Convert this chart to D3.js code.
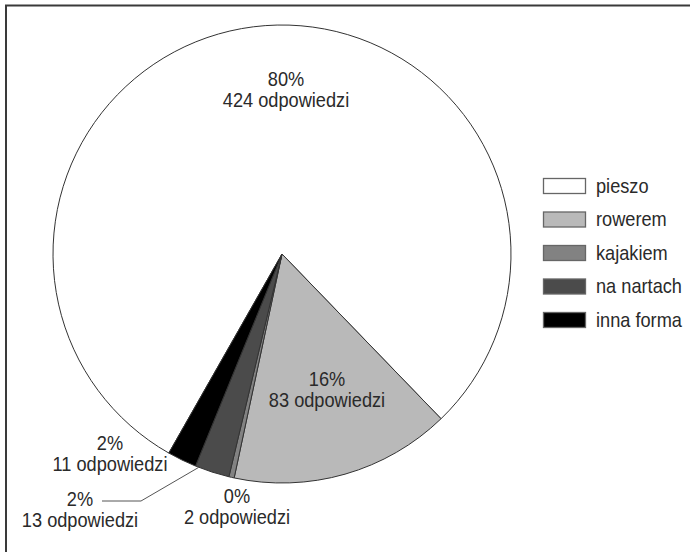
<!DOCTYPE html>
<html>
<head>
<meta charset="utf-8">
<script src="https://cdn.jsdelivr.net/npm/d3@7"></script>
<style>
  html, body { margin: 0; padding: 0; background: #fff; }
  svg { display: block; }
  text { font-family: "Liberation Sans", Arial, sans-serif; fill: #2a2a2a; }
</style>
</head>
<body>
<svg id="chart" width="690" height="552"></svg>
<script>
// Sposób dotarcia — liczba odpowiedzi
const categories = ["pieszo", "rowerem", "kajakiem", "na nartach", "inna forma"];
const counts = [424, 83, 2, 13, 11];
const percentLabels = ["80%", "16%", "0%", "2%", "2%"];
const colors = ["#ffffff", "#b9b9b9", "#828282", "#4b4b4b", "#000000"];

// label placement (offset of the text block from the pie centre) and optional leader line
const labelLayout = [
  { dx: 4,   dy: -168, leader: false },
  { dx: 45,  dy: 132,  leader: false },
  { dx: -45, dy: 249,  leader: false },
  { dx: -202, dy: 252, leader: true },
  { dx: -172, dy: 196, leader: false }
];

const width = 690, height = 552;
const cx = 282, cy = 254, radius = 229;
const fontSize = 20, condense = 0.91; // condensed sans look
const svg = d3.select("#chart");

// frame: top and left rules only
svg.append("line").attr("x1", 5).attr("x2", width).attr("y1", 5.5).attr("y2", 5.5)
  .attr("stroke", "#3a3a3a").attr("stroke-width", 2);
svg.append("line").attr("x1", 6).attr("x2", 6).attr("y1", 5).attr("y2", height)
  .attr("stroke", "#3a3a3a").attr("stroke-width", 2);

const data = categories.map((c, i) => ({ name: c, value: counts[i], pct: percentLabels[i], color: colors[i], layout: labelLayout[i] }));

const total = d3.sum(counts);
// rowerem slice begins at ~136° (clockwise from 12 o'clock); pieszo precedes it
const rowStart = 136 * Math.PI / 180;
const startAngle = rowStart + 2 * Math.PI - 2 * Math.PI * counts[0] / total;

const pie = d3.pie().value(d => d.value).sort(null)
  .startAngle(startAngle).endAngle(startAngle + 2 * Math.PI);
const arcs = pie(data);
const arc = d3.arc().innerRadius(0).outerRadius(radius);

const g = svg.append("g").attr("transform", `translate(${cx},${cy})`);
g.selectAll("path.slice").data(arcs).join("path")
  .attr("class", "slice")
  .attr("d", arc)
  .attr("fill", d => d.data.color)
  .attr("stroke", "#333")
  .attr("stroke-width", 1)
  .attr("stroke-linejoin", "round");

// leader line for the small slice whose label sits outside
arcs.forEach(d => {
  if (!d.data.layout.leader) return;
  const a = d.startAngle + 0.9 * (d.endAngle - d.startAngle);
  const px = Math.sin(a) * radius, py = -Math.cos(a) * radius;
  const ly = d.data.layout.dy - 5;
  const lx0 = d.data.layout.dx + 22;
  const lx1 = lx0 + 39;
  g.append("polyline")
    .attr("points", [[px, py], [lx1, ly], [lx0, ly]].map(p => p.join(",")).join(" "))
    .attr("fill", "none").attr("stroke", "#555").attr("stroke-width", 1);
});

// value labels: percentage on the first line, answer count below
const labels = g.selectAll("g.label").data(arcs).join("g")
  .attr("class", "label")
  .attr("transform", d => `translate(${d.data.layout.dx},${d.data.layout.dy}) scale(${condense},1)`);
labels.append("text")
  .attr("text-anchor", "middle").attr("font-size", fontSize).attr("y", 0)
  .text(d => d.data.pct);
labels.append("text")
  .attr("text-anchor", "middle").attr("font-size", fontSize).attr("y", 21)
  .text(d => `${d.data.value} odpowiedzi`);

// legend
const legend = svg.append("g").attr("transform", "translate(543,185.5)");
const rows = legend.selectAll("g").data(data).join("g")
  .attr("transform", (d, i) => `translate(0,${i * 33.5})`);
rows.append("rect")
  .attr("x", 0.5).attr("y", -7).attr("width", 42).attr("height", 15)
  .attr("fill", d => d.color).attr("stroke", "#666").attr("stroke-width", 1.3);
rows.append("text")
  .attr("transform", `translate(53,7) scale(${condense},1)`)
  .attr("font-size", fontSize)
  .text(d => d.name);
</script>
</body>
</html>
